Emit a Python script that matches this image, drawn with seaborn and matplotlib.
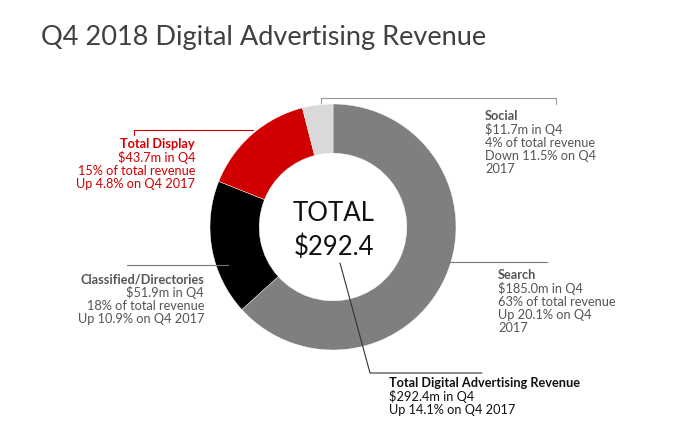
import seaborn as sns
import numpy as np
import matplotlib.pyplot as plt

# values in $m, Q4 2018, drawn clockwise from 12 o'clock
categories = ["Search", "Classified/Directories", "Total Display", "Social"]
revenue = [185.0, 51.9, 43.7, 11.7]
colors = ["#7f7f7f", "#000000", "#d10000", "#d9d9d9"]
total_label = "$292.4"

label_lines = {
    "Social": ["$11.7m in Q4", "4% of total revenue", "Down 11.5% on Q4", "2017"],
    "Total Display": ["$43.7m in Q4", "15% of total revenue", "Up 4.8% on Q4 2017"],
    "Classified/Directories": ["$51.9m in Q4", "18% of total revenue", "Up 10.9% on Q4 2017"],
    "Search": ["$185.0m in Q4", "63% of total revenue", "Up 20.1% on Q4", "2017"],
    "Total Digital Advertising Revenue": ["$292.4m in Q4", "Up 14.1% on Q4 2017"],
}

sns.set_theme(style="white")
plt.rcParams["font.family"] = ["Lato", "DejaVu Sans"]

W, H = 680, 428
fig = plt.figure(figsize=(W / 100, H / 100), dpi=100)
ax = fig.add_axes([0, 0, 1, 1])

cx, cy, r = 333, H - 227, 123
ax.pie(revenue, colors=colors, startangle=90, counterclock=False,
       center=(cx, cy), radius=r,
       wedgeprops=dict(width=r * 0.4, edgecolor="white", linewidth=0.3))
ax.set_xlim(0, W)
ax.set_ylim(0, H)
ax.set_aspect("equal")
ax.axis("off")

ax.text(cx + 1, H - 213, "TOTAL", ha="center", va="center", fontsize=18.5, color="#111111")
ax.text(cx + 1, H - 247, total_label, ha="center", va="center", fontsize=18.5, color="#111111")

fig.text(41 / W, 1 - 37 / H, "Q4 2018 Digital Advertising Revenue", ha="left", va="center",
         fontsize=19.5, color="#404040")


def block(x, y_top, title, lines, color, ha):
    step = 13.3
    ax.text(x, H - y_top, title, ha=ha, va="center", fontsize=9.2, fontweight="bold", color=color)
    for i, s in enumerate(lines):
        ax.text(x, H - (y_top + step * (i + 1)), s, ha=ha, va="center", fontsize=9.2, color=color)


def py(*ys):
    return [H - v for v in ys]


# Social
ax.plot([321, 321, 556, 556], py(103, 98, 98, 104), color="#999999", lw=0.8)
block(485, 116, "Social", label_lines["Social"], "#555555", "left")

# Display
ax.plot([134, 134, 253], py(135, 130, 130), color="#d10000", lw=0.8)
block(195, 144, "Total Display", label_lines["Total Display"], "#d10000", "right")

# Classified
ax.plot([127, 228], py(265, 265), color="#777777", lw=0.8)
block(204, 279, "Classified/Directories", label_lines["Classified/Directories"], "#555555", "right")

# Search
ax.plot([447, 547], py(262, 262), color="#777777", lw=0.8)
block(498, 275, "Search", label_lines["Search"], "#555555", "left")

# Total
ax.plot([340, 370, 482], py(263, 373, 373), color="#333333", lw=0.8)
block(389, 383, "Total Digital Advertising Revenue",
      label_lines["Total Digital Advertising Revenue"], "#111111", "left")

fig.savefig("out.png", dpi=100, facecolor="white")
